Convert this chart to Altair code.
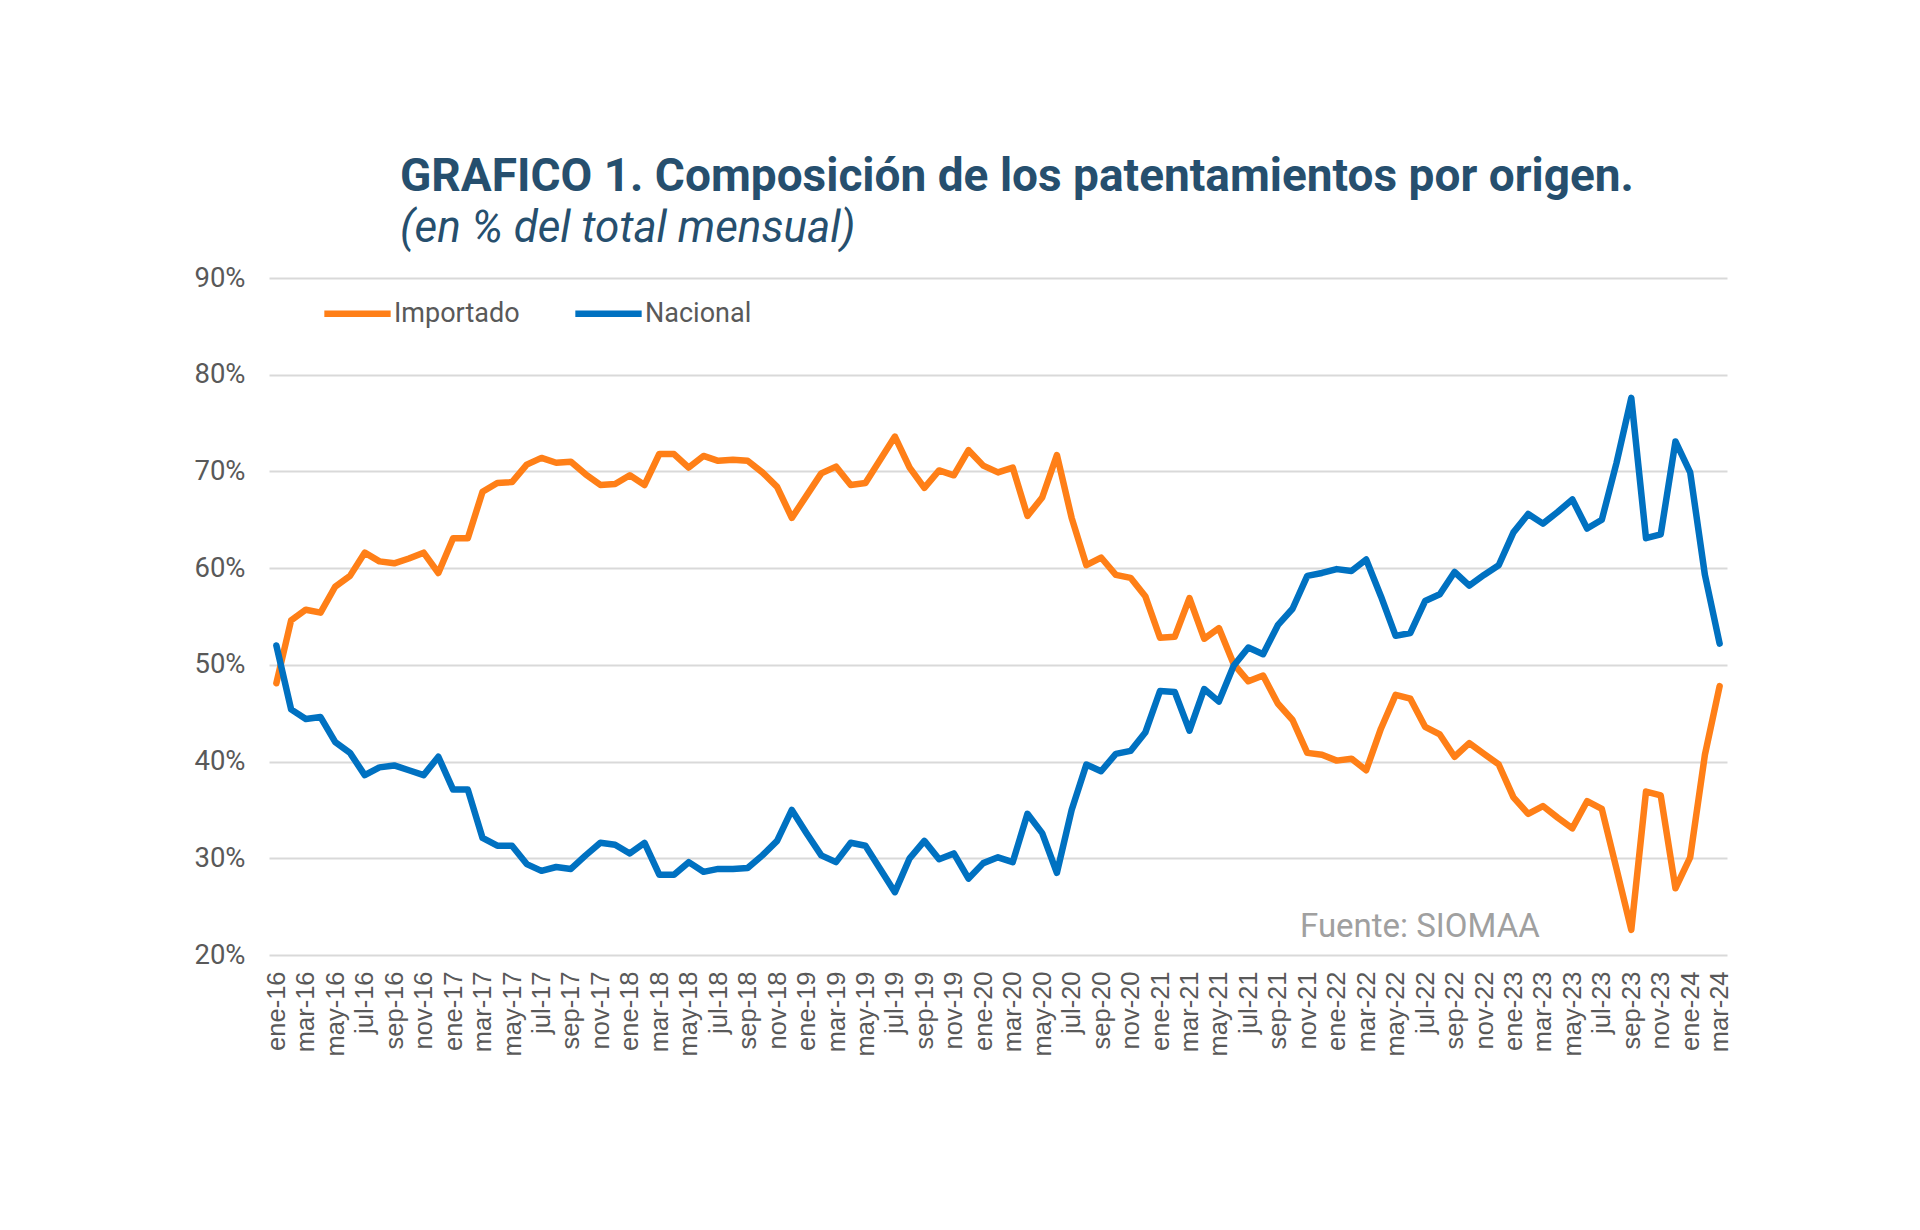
import altair as alt
import pandas as pd

meses = ["ene", "feb", "mar", "abr", "may", "jun", "jul", "ago", "sep", "oct", "nov", "dic"]
etiquetas = [f"{m}-{a}" for a in range(16, 25) for m in meses][:99]

importado = [
    48.1, 54.6, 55.7, 55.4, 58.1, 59.2, 61.6, 60.7, 60.5, 61.0,
    61.6, 59.5, 63.1, 63.1, 67.9, 68.8, 68.9, 70.7, 71.4, 70.9,
    71.0, 69.7, 68.6, 68.7, 69.6, 68.6, 71.8, 71.8, 70.4, 71.6,
    71.1, 71.2, 71.1, 69.9, 68.4, 65.2, 67.5, 69.8, 70.5, 68.6,
    68.8, 71.2, 73.6, 70.4, 68.3, 70.1, 69.6, 72.2, 70.6, 69.9,
    70.4, 65.4, 67.3, 71.7, 65.2, 60.3, 61.1, 59.3, 59.0, 57.1,
    52.8, 52.9, 56.9, 52.7, 53.8, 50.1, 48.3, 48.9, 46.0, 44.3,
    40.9, 40.7, 40.1, 40.3, 39.1, 43.4, 46.9, 46.5, 43.6, 42.8,
    40.5, 41.9, 40.8, 39.7, 36.3, 34.6, 35.4, 34.2, 33.1, 35.9,
    35.1, 28.9, 22.6, 36.9, 36.5, 26.9, 30.1, 40.7, 47.8,
]

nacional = [
    52.0, 45.4, 44.4, 44.6, 42.0, 40.9, 38.6, 39.4, 39.6, 39.1,
    38.6, 40.5, 37.1, 37.1, 32.1, 31.3, 31.3, 29.4, 28.7, 29.1,
    28.9, 30.3, 31.6, 31.4, 30.5, 31.6, 28.3, 28.3, 29.6, 28.6,
    28.9, 28.9, 29.0, 30.3, 31.8, 35.0, 32.6, 30.3, 29.6, 31.6,
    31.3, 28.9, 26.5, 30.0, 31.8, 29.9, 30.5, 27.9, 29.5, 30.1,
    29.6, 34.6, 32.6, 28.5, 35.0, 39.7, 39.0, 40.8, 41.1, 43.0,
    47.3, 47.2, 43.2, 47.5, 46.2, 49.9, 51.8, 51.1, 54.1, 55.8,
    59.2, 59.5, 59.9, 59.7, 60.9, 57.1, 53.0, 53.3, 56.6, 57.3,
    59.6, 58.2, 59.3, 60.3, 63.7, 65.6, 64.6, 65.8, 67.1, 64.1,
    65.0, 70.9, 77.6, 63.1, 63.5, 73.1, 69.9, 59.3, 52.2,
]

series = ["Importado", "Nacional"]
colores = ["#FF7F17", "#0071C1"]

rows = []
for s, vals in zip(series, [importado, nacional]):
    for i, (lab, v) in enumerate(zip(etiquetas, vals)):
        rows.append({"mes": lab, "orden": i, "serie": s, "valor": v / 100.0})
df = pd.DataFrame(rows)

label_font = "Roboto"
gray = "#595959"

lines = alt.Chart(df).mark_line(strokeWidth=6.5, strokeJoin="round", strokeCap="round").encode(
    x=alt.X(
        "mes:O",
        sort=etiquetas,
        scale=alt.Scale(type="point", padding=0.5),
        axis=alt.Axis(
            title=None,
            values=etiquetas[::2],
            labelAngle=-90,
            labelFont="Liberation Sans",
            labelFontSize=25.5,
            labelColor=gray,
            labelPadding=16,
            ticks=False,
            domain=False,
            grid=False,
        ),
    ),
    y=alt.Y(
        "valor:Q",
        scale=alt.Scale(domain=[0.2, 0.9]),
        axis=alt.Axis(
            title=None,
            values=[0.2, 0.3, 0.4, 0.5, 0.6, 0.7, 0.8, 0.9],
            format=".0%",
            labelFont=label_font,
            labelFontSize=27.5,
            labelColor=gray,
            labelPadding=24,
            ticks=False,
            domain=False,
            grid=True,
            gridColor="#D9D9D9",
            gridWidth=2,
        ),
    ),
    color=alt.Color(
        "serie:N",
        scale=alt.Scale(domain=series, range=colores),
        legend=alt.Legend(
            title=None,
            orient="none",
            legendX=52,
            legendY=-1,
            direction="horizontal",
            symbolType="stroke",
            symbolSize=4400,
            symbolStrokeWidth=6.5,
            labelFont=label_font,
            labelFontSize=27,
            labelColor=gray,
            labelOffset=0,
            columnPadding=42,
        ),
    ),
    order=alt.Order("serie:N"),
)

fuente = alt.Chart(pd.DataFrame({"t": ["Fuente: SIOMAA"]})).mark_text(
    align="left", baseline="alphabetic", font=label_font, fontSize=33, color="#A0A0A0"
).encode(x=alt.value(1031), y=alt.value(659), text="t:N")

chart = alt.layer(lines, fuente).properties(
    width=1458,
    height=677,
    background="white",
    padding={"left": 261, "top": 270, "right": 150, "bottom": 200},
    autosize=alt.AutoSizeParams(type="none"),
    title=alt.Title(
        text="GRAFICO 1. Composición de los patentamientos por origen.",
        subtitle="(en % del total mensual)",
        anchor="start",
        frame="group",
        dx=131,
        offset=12,
        font=label_font,
        fontSize=46,
        fontWeight="bold",
        color="#264F6E",
        subtitleFont=label_font,
        subtitleFontSize=44,
        subtitleFontStyle="italic",
        subtitleColor="#264F6E",
        subtitlePadding=6,
    ),
).configure_view(strokeWidth=0, stroke="transparent")

chart.save("out.html", embed_options={"renderer": "svg", "actions": False})
